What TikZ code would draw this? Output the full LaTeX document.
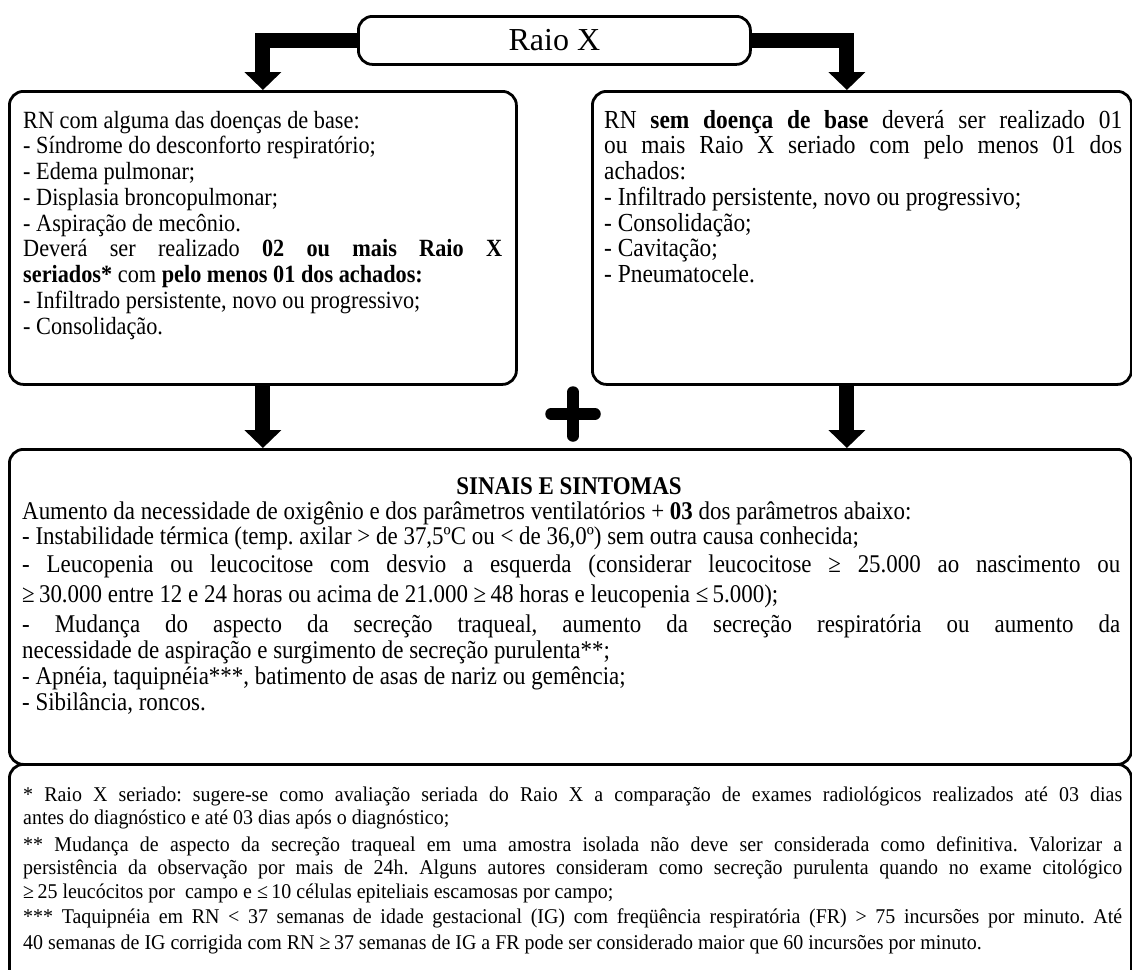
\documentclass[tikz,border=0pt]{standalone}
\usepackage{fontspec}
\setmainfont{Liberation Serif}[FakeStretch=0.9]
\newfontfamily\titlefont{Liberation Serif}
\newfontfamily\notefont{Liberation Serif}[FakeStretch=0.95]
\usetikzlibrary{arrows.meta}
\frenchspacing
\begin{document}
\begin{tikzpicture}[x=1pt,y=-1pt,
  box/.style={draw, line width=2.8pt, rounded corners=14pt, inner sep=0pt, anchor=north west},
  bigarrow/.style={line width=15pt, line join=miter, -{Triangle[width=36pt,length=18pt]}},
  ltxt/.style={anchor=base west, inner sep=0pt, font=\fontsize{24.75}{26}\selectfont},
  rtxt/.style={anchor=base west, inner sep=0pt, font=\fontsize{26}{26}\selectfont},
  txt/.style={anchor=base west, inner sep=0pt, font=\fontsize{25.5}{26}\selectfont},
  ttl/.style={anchor=base, inner sep=0pt, font=\fontsize{25.5}{26}\selectfont\bfseries},
  note/.style={anchor=base west, inner sep=0pt, font=\notefont\fontsize{21}{23}\selectfont},
]
\useasboundingbox (0,0) rectangle (1132,969);
\clip (0,0) rectangle (1132,969);
% boxes
\node[box, minimum width=392pt, minimum height=48pt, font=\titlefont\fontsize{32}{36}\selectfont] (raio) at (357,15) {Raio X};
\node[box, minimum width=507pt, minimum height=293pt] (lbox) at (8,90) {};
\node[box, minimum width=539pt, minimum height=293pt] (rbox) at (591,90) {};
\node[box, minimum width=1122pt, minimum height=315pt] (sbox) at (8,448) {};
\node[box, minimum width=1122pt, minimum height=240pt] (nbox) at (8,763) {};
% arrows
\coordinate (rtop) at ([xshift=-15pt]rbox.north);
\draw[bigarrow] (raio.west) -| (lbox.north);
\draw[bigarrow] (raio.east) -| (rtop);
\draw[bigarrow] (lbox.south) -- (lbox.south |- sbox.north);
\draw[bigarrow] (rtop |- rbox.south) -- (rtop |- sbox.north);
% plus
\coordinate (plus) at (573,414);
\draw[line width=11.5pt, line cap=round] ([xshift=-22pt]plus) -- ([xshift=22pt]plus)
  ([yshift=-22pt]plus) -- ([yshift=22pt]plus);
% left box text
\node[ltxt] (l1) at (23,128) {RN com alguma das doenças de base:};
\node[ltxt] (l2) at (23,153.75) {- Síndrome do desconforto respiratório;};
\node[ltxt] (l3) at (23,179.5) {- Edema pulmonar;};
\node[ltxt] (l4) at (23,205.25) {- Displasia broncopulmonar;};
\node[ltxt] (l5) at (23,231) {- Aspiração de mecônio.};
\node[ltxt] (l6) at (23,256.75) {\makebox[479pt][s]{Deverá ser realizado \textbf{02 ou mais Raio X}}};
\node[ltxt] (l7) at (23,282.5) {\textbf{seriados*} com \textbf{pelo menos 01 dos achados:}};
\node[ltxt] (l8) at (23,308.25) {- Infiltrado persistente, novo ou progressivo;};
\node[ltxt] (l9) at (23,334) {- Consolidação.};
% right box text
\node[rtxt] (r1) at (604,128) {\makebox[518pt][s]{RN \textbf{sem doença de base} deverá ser realizado 01}};
\node[rtxt] (r2) at (604,153.75) {\makebox[518pt][s]{ou mais Raio X seriado com pelo menos 01 dos}};
\node[rtxt] (r3) at (604,179.5) {achados:};
\node[rtxt] (r4) at (604,205.25) {- Infiltrado persistente, novo ou progressivo;};
\node[rtxt] (r5) at (604,231) {- Consolidação;};
\node[rtxt] (r6) at (604,256.75) {- Cavitação;};
\node[rtxt] (r7) at (604,282.5) {- Pneumatocele.};
% signs box text
\node[ttl] (s1) at (569,494) {SINAIS E SINTOMAS};
\node[txt] (s2) at (22,519) {Aumento da necessidade de oxigênio e dos parâmetros ventilatórios + \textbf{03} dos parâmetros abaixo:};
\node[txt] (s3) at (22,544) {- Instabilidade térmica (temp. axilar > de 37,5ºC ou < de 36,0º) sem outra causa conhecida;};
\node[txt] (s4) at (22,572) {\makebox[1098pt][s]{- Leucopenia ou leucocitose com desvio a esquerda (considerar leucocitose ≥ 25.000 ao nascimento ou}};
\node[txt] (s5) at (22,602) {≥\,30.000 entre 12 e 24 horas ou acima de 21.000 ≥\,48 horas e leucopenia ≤\,5.000);};
\node[txt] (s6) at (22,632) {\makebox[1098pt][s]{- Mudança do aspecto da secreção traqueal, aumento da secreção respiratória ou aumento da}};
\node[txt] (s7) at (22,658) {necessidade de aspiração e surgimento de secreção purulenta**;};
\node[txt] (s8) at (22,684) {- Apnéia, taquipnéia***, batimento de asas de nariz ou gemência;};
\node[txt] (s9) at (22,710) {- Sibilância, roncos.};
% notes
\node[note] (n1) at (23,801) {\makebox[1099pt][s]{* Raio X seriado: sugere-se como avaliação seriada do Raio X a comparação de exames radiológicos realizados até 03 dias}};
\node[note] (n2) at (23,824) {antes do diagnóstico e até 03 dias após o diagnóstico;};
\node[note] (n3) at (23,851) {\makebox[1099pt][s]{** Mudança de aspecto da secreção traqueal em uma amostra isolada não deve ser considerada como definitiva. Valorizar a}};
\node[note] (n4) at (23,874) {\makebox[1099pt][s]{persistência da observação por mais de 24h. Alguns autores consideram como secreção purulenta quando no exame citológico}};
\node[note] (n5) at (23,898) {≥\,25 leucócitos por\ \ campo e ≤\,10 células epiteliais escamosas por campo;};
\node[note] (n6) at (23,923) {\makebox[1099pt][s]{*** Taquipnéia em RN < 37 semanas de idade gestacional (IG) com freqüência respiratória (FR) > 75 incursões por minuto. Até}};
\node[note] (n7) at (23,949) {40 semanas de IG corrigida com RN ≥\,37 semanas de IG a FR pode ser considerado maior que 60 incursões por minuto.};
\end{tikzpicture}
\end{document}
